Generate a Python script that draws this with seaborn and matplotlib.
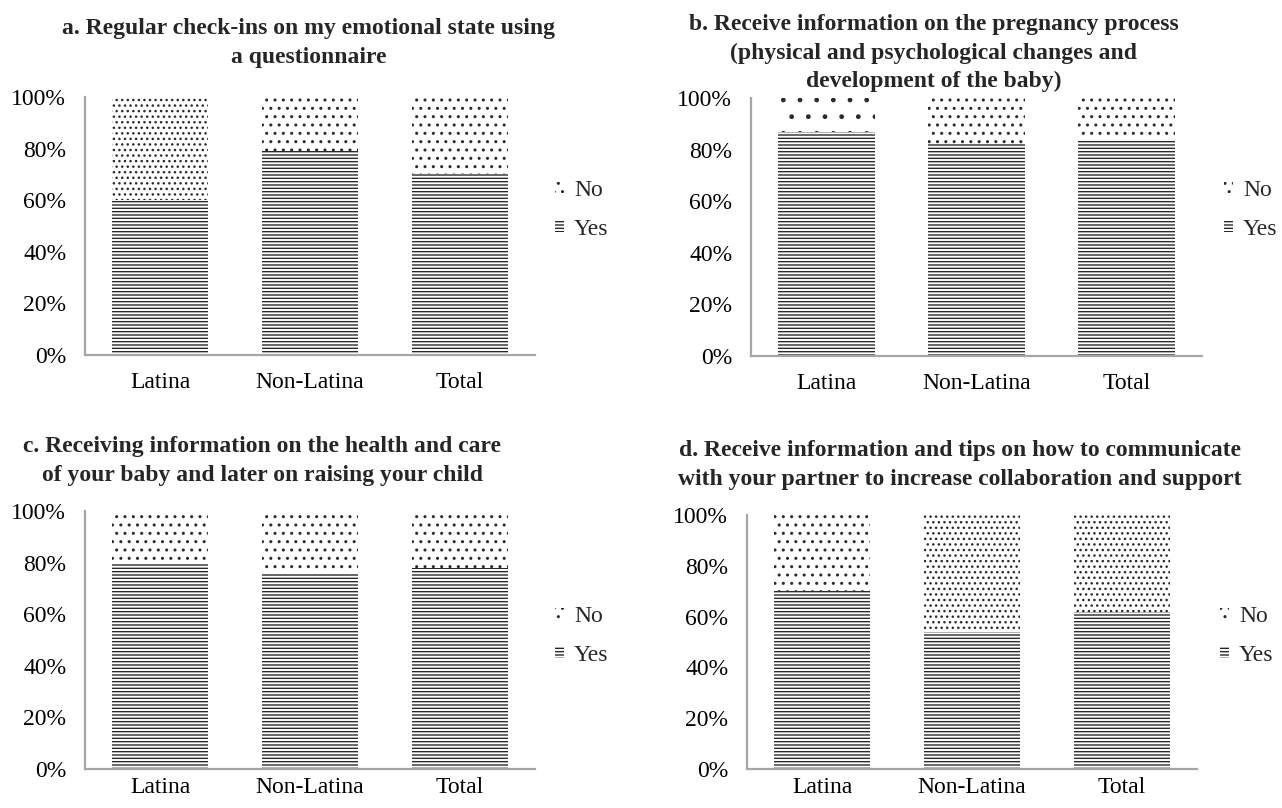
import matplotlib
matplotlib.use("Agg")
import matplotlib.pyplot as plt
from matplotlib.patches import Patch
from matplotlib.ticker import FuncFormatter
import pandas as pd
import seaborn as sns

# ---- data -------------------------------------------------------------
groups = ["Latina", "Non-Latina", "Total"]

yes_a = [60, 79, 70]   # regular emotional check-ins
yes_b = [87, 82, 84]   # pregnancy process information
yes_c = [80, 76, 78]   # baby health / child raising information
yes_d = [70, 54, 62]   # partner communication tips

titles = [
    "a. Regular check-ins on my emotional state using\na questionnaire",
    "b. Receive information on the pregnancy process\n(physical and psychological changes and\ndevelopment of the baby)",
    "c. Receiving information on the health and care\nof your baby and later on raising your child",
    "d. Receive information and tips on how to communicate\nwith your partner to increase collaboration and support",
]
yticks = [0, 20, 40, 60, 80, 100]

# ---- style ------------------------------------------------------------
sns.set_theme(style="white")
plt.rcParams["font.family"] = ["Liberation Serif", "DejaVu Serif"]
plt.rcParams["hatch.linewidth"] = 1.0

W, H = 1282, 808
fig = plt.figure(figsize=(W / 100, H / 100), dpi=100)


def px_rect(left, right, top, bottom):
    return [left / W, 1 - bottom / H, (right - left) / W, (bottom - top) / H]


panels = [
    dict(yes=yes_a, rect=px_rect(85, 535, 97, 355), title_xy=(309, 43),
         no_hatch=["...", "..", ".."], leg_xy=(555, 210), xpad=12),
    dict(yes=yes_b, rect=px_rect(751, 1202, 98, 356), title_xy=(934, 53),
         no_hatch=[".", "..", ".."], leg_xy=(1224, 210), xpad=12),
    dict(yes=yes_c, rect=px_rect(85, 535, 511, 769), title_xy=(262, 461),
         no_hatch=["..", "..", ".."], leg_xy=(555, 636), xpad=6),
    dict(yes=yes_d, rect=px_rect(747, 1197, 515, 769), title_xy=(960, 465),
         no_hatch=["..", "...", "..."], leg_xy=(1220, 636), xpad=6),
]

LINE = "#2a2a2a"
SPINE = "#a6a6a6"
YES_HATCH = "-----"
BAR_W = 0.645
FS = 17

for p, title in zip(panels, titles):
    ax = fig.add_axes(p["rect"])
    df = pd.DataFrame({"group": groups, "yes": p["yes"], "all": [100] * len(groups)})

    # full-height "No" bars with the "Yes" share drawn over them
    sns.barplot(data=df, x="group", y="all", color="white", width=BAR_W,
                errorbar=None, ax=ax)
    sns.barplot(data=df, x="group", y="yes", color="white", width=BAR_W,
                errorbar=None, ax=ax)

    n = len(groups)
    for i, bar in enumerate(ax.patches):
        bar.set_facecolor("white")
        bar.set_edgecolor(LINE)
        bar.set_linewidth(0)
        bar.set_hatch(p["no_hatch"][i] if i < n else YES_HATCH)

    ax.set_ylim(0, 100)
    ax.set_xlim(-0.5, n - 0.5)
    ax.set_yticks(yticks)
    ax.yaxis.set_major_formatter(FuncFormatter(lambda v, _: f"{v:.0f}%"))
    ax.set_xlabel("")
    ax.set_ylabel("")
    ax.tick_params(axis="both", length=0, labelsize=FS, colors="black")
    ax.tick_params(axis="x", pad=p["xpad"])
    ax.tick_params(axis="y", pad=13.5)
    for side in ("top", "right"):
        ax.spines[side].set_visible(False)
    for side in ("left", "bottom"):
        ax.spines[side].set_color(SPINE)
        ax.spines[side].set_linewidth(1.6)

    handles = [
        Patch(facecolor="white", edgecolor=LINE, linewidth=0, hatch="..", label="No"),
        Patch(facecolor="white", edgecolor=LINE, linewidth=0, hatch=YES_HATCH, label="Yes"),
    ]
    lx, ly = p["leg_xy"]
    ax.legend(handles=handles, loc="center left",
              bbox_to_anchor=(lx / W, 1 - ly / H),
              bbox_transform=fig.transFigure, frameon=False,
              fontsize=FS, handlelength=0.4, handleheight=0.35,
              handletextpad=0.4, labelspacing=0.78, borderpad=0, borderaxespad=0)

    tx, ty = p["title_xy"]
    fig.text(tx / W, 1 - ty / H, title, ha="center", va="center",
             fontsize=FS, fontweight="bold", linespacing=1.45)

fig.savefig("out.png", dpi=100)
